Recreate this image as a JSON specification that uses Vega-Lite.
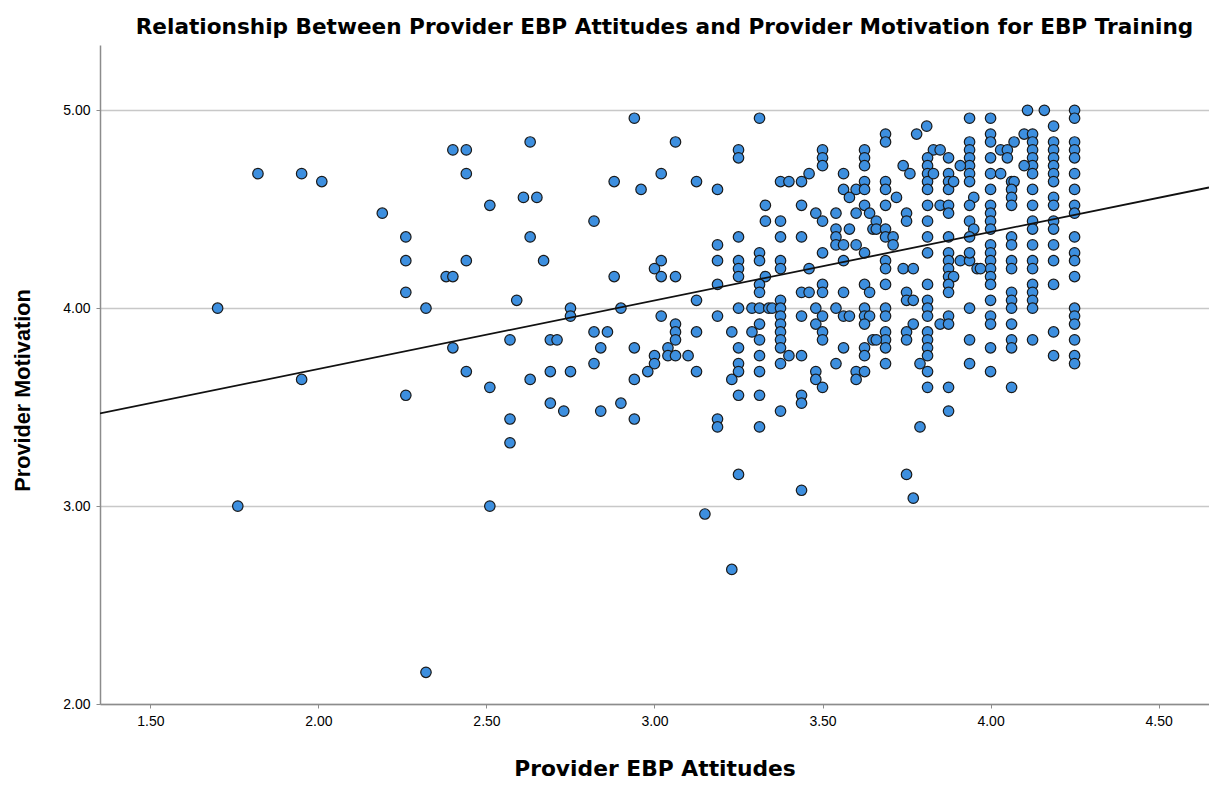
{
  "$schema": "https://vega.github.io/schema/vega-lite/v6.json",
  "width": 1109,
  "height": 659,
  "autosize": "none",
  "padding": {"left": 100, "top": 45, "right": 0, "bottom": 81},
  "background": "white",
  "title": {"text": "Relationship Between Provider EBP Attitudes and Provider Motivation for EBP Training", "font": "DejaVu Sans", "fontSize": 21.6, "fontWeight": "bold", "color": "#000000", "anchor": "middle", "offset": 6, "dx": 10},
  "config": {"view": {"stroke": null}},
  "datasets": {
    "pts": [
      {"a":1.70,"m":4.00},{"a":1.76,"m":3.00},{"a":1.82,"m":4.68},{"a":1.95,"m":4.68},{"a":1.95,"m":3.64},{"a":2.01,"m":4.64},{"a":2.19,"m":4.48},{"a":2.26,"m":4.36},{"a":2.26,"m":4.24},{"a":2.26,"m":4.08},{"a":2.26,"m":3.56},{"a":2.32,"m":4.00},{"a":2.32,"m":2.16},{"a":2.38,"m":4.16},{"a":2.40,"m":4.16},{"a":2.40,"m":4.80},{"a":2.44,"m":4.80},{"a":2.44,"m":4.68},{"a":2.44,"m":4.24},{"a":2.40,"m":3.80},{"a":2.44,"m":3.68},{"a":2.51,"m":4.52},{"a":2.51,"m":3.60},{"a":2.51,"m":3.00},
      {"a":2.94,"m":4.96},{"a":2.63,"m":4.84},{"a":2.61,"m":4.56},{"a":2.65,"m":4.56},{"a":2.63,"m":4.36},{"a":2.67,"m":4.24},{"a":2.59,"m":4.04},{"a":2.82,"m":4.44},{"a":2.88,"m":4.64},{"a":2.96,"m":4.60},{"a":2.88,"m":4.16},{"a":3.00,"m":4.20},{"a":2.75,"m":4.00},{"a":2.75,"m":3.96},{"a":2.90,"m":4.00},{"a":2.57,"m":3.84},{"a":2.69,"m":3.84},{"a":2.71,"m":3.84},{"a":2.82,"m":3.88},{"a":2.86,"m":3.88},{"a":2.84,"m":3.80},{"a":2.94,"m":3.80},{"a":3.00,"m":3.76},{"a":3.00,"m":3.72},{"a":2.63,"m":3.64},{"a":2.69,"m":3.68},{"a":2.75,"m":3.68},{"a":2.82,"m":3.72},{"a":2.94,"m":3.64},{"a":2.98,"m":3.68},{"a":2.57,"m":3.44},{"a":2.57,"m":3.32},{"a":2.69,"m":3.52},{"a":2.73,"m":3.48},{"a":2.84,"m":3.48},{"a":2.90,"m":3.52},{"a":2.94,"m":3.44},
      {"a":3.3125,"m":4.96},{"a":3.0625,"m":4.84},{"a":3.25,"m":4.80},{"a":3.25,"m":4.76},{"a":3.02,"m":4.68},{"a":3.125,"m":4.64},{"a":3.1875,"m":4.60},{"a":3.33,"m":4.52},{"a":3.33,"m":4.44},{"a":3.25,"m":4.36},{"a":3.1875,"m":4.32},{"a":3.1875,"m":4.24},{"a":3.25,"m":4.24},{"a":3.25,"m":4.20},{"a":3.25,"m":4.16},{"a":3.3125,"m":4.28},{"a":3.3125,"m":4.24},{"a":3.33,"m":4.16},{"a":3.02,"m":4.24},{"a":3.02,"m":4.16},{"a":3.0625,"m":4.16},{"a":3.1875,"m":4.12},{"a":3.125,"m":4.04},{"a":3.3125,"m":4.12},{"a":3.3125,"m":4.08},{"a":3.25,"m":4.00},{"a":3.29,"m":4.00},{"a":3.3125,"m":4.00},{"a":3.34,"m":4.00},{"a":3.02,"m":3.96},{"a":3.1875,"m":3.96},{"a":3.0625,"m":3.92},{"a":3.0625,"m":3.88},{"a":3.0625,"m":3.84},{"a":3.125,"m":3.88},{"a":3.04,"m":3.80},{"a":3.04,"m":3.76},{"a":3.0625,"m":3.76},{"a":3.10,"m":3.76},{"a":3.125,"m":3.68},{"a":3.23,"m":3.88},{"a":3.29,"m":3.88},{"a":3.3125,"m":3.92},{"a":3.25,"m":3.80},{"a":3.3125,"m":3.84},{"a":3.3125,"m":3.76},{"a":3.25,"m":3.72},{"a":3.25,"m":3.68},{"a":3.23,"m":3.64},{"a":3.3125,"m":3.68},{"a":3.25,"m":3.56},{"a":3.3125,"m":3.56},{"a":3.1875,"m":3.44},{"a":3.1875,"m":3.40},{"a":3.3125,"m":3.40},{"a":3.25,"m":3.16},{"a":3.15,"m":2.96},{"a":3.23,"m":2.68},
      {"a":3.5,"m":4.80},{"a":3.5,"m":4.76},{"a":3.5,"m":4.72},{"a":3.625,"m":4.80},{"a":3.625,"m":4.76},{"a":3.625,"m":4.72},{"a":3.46,"m":4.68},{"a":3.375,"m":4.64},{"a":3.40,"m":4.64},{"a":3.4375,"m":4.64},{"a":3.5625,"m":4.68},{"a":3.5625,"m":4.60},{"a":3.58,"m":4.56},{"a":3.60,"m":4.60},{"a":3.625,"m":4.64},{"a":3.625,"m":4.60},{"a":3.4375,"m":4.52},{"a":3.625,"m":4.52},{"a":3.60,"m":4.48},{"a":3.64,"m":4.48},{"a":3.48,"m":4.48},{"a":3.5,"m":4.44},{"a":3.54,"m":4.48},{"a":3.375,"m":4.44},{"a":3.375,"m":4.36},{"a":3.4375,"m":4.36},{"a":3.54,"m":4.40},{"a":3.54,"m":4.36},{"a":3.54,"m":4.32},{"a":3.5625,"m":4.32},{"a":3.58,"m":4.40},{"a":3.60,"m":4.32},{"a":3.625,"m":4.28},{"a":3.65,"m":4.40},{"a":3.375,"m":4.24},{"a":3.375,"m":4.20},{"a":3.5,"m":4.28},{"a":3.5625,"m":4.24},{"a":3.46,"m":4.20},{"a":3.4375,"m":4.08},{"a":3.46,"m":4.08},{"a":3.5,"m":4.12},{"a":3.5,"m":4.08},{"a":3.5625,"m":4.08},{"a":3.625,"m":4.12},{"a":3.64,"m":4.08},{"a":3.375,"m":4.04},{"a":3.35,"m":4.00},{"a":3.375,"m":4.00},{"a":3.48,"m":4.00},{"a":3.54,"m":4.00},{"a":3.625,"m":4.00},{"a":3.4375,"m":3.96},{"a":3.5625,"m":3.96},{"a":3.58,"m":3.96},
      {"a":3.375,"m":3.96},{"a":3.375,"m":3.92},{"a":3.375,"m":3.88},{"a":3.375,"m":3.84},{"a":3.375,"m":3.80},{"a":3.48,"m":3.92},{"a":3.5,"m":3.96},{"a":3.5,"m":3.88},{"a":3.5,"m":3.84},{"a":3.625,"m":3.96},{"a":3.64,"m":3.96},{"a":3.625,"m":3.92},{"a":3.65,"m":3.84},{"a":3.40,"m":3.76},{"a":3.4375,"m":3.76},{"a":3.375,"m":3.72},{"a":3.5625,"m":3.80},{"a":3.54,"m":3.72},{"a":3.625,"m":3.80},{"a":3.625,"m":3.76},{"a":3.48,"m":3.68},{"a":3.48,"m":3.64},{"a":3.5,"m":3.60},{"a":3.60,"m":3.68},{"a":3.60,"m":3.64},{"a":3.625,"m":3.68},{"a":3.4375,"m":3.56},{"a":3.4375,"m":3.52},{"a":3.375,"m":3.48},{"a":3.4375,"m":3.08},
      {"a":3.9375,"m":4.96},{"a":3.81,"m":4.92},{"a":3.78,"m":4.88},{"a":3.6875,"m":4.88},{"a":3.6875,"m":4.84},{"a":3.83,"m":4.80},{"a":3.85,"m":4.80},{"a":3.8125,"m":4.76},{"a":3.8125,"m":4.72},{"a":3.8125,"m":4.68},{"a":3.8125,"m":4.64},{"a":3.8125,"m":4.60},{"a":3.875,"m":4.76},{"a":3.9375,"m":4.84},{"a":3.9375,"m":4.80},{"a":3.9375,"m":4.76},{"a":3.9375,"m":4.72},{"a":3.9375,"m":4.68},{"a":3.9375,"m":4.64},{"a":3.91,"m":4.72},{"a":3.74,"m":4.72},{"a":3.76,"m":4.68},{"a":3.83,"m":4.68},{"a":3.875,"m":4.68},{"a":3.875,"m":4.64},{"a":3.875,"m":4.60},{"a":3.89,"m":4.64},{"a":3.6875,"m":4.64},{"a":3.6875,"m":4.60},{"a":3.72,"m":4.56},{"a":3.95,"m":4.56},{"a":3.6875,"m":4.52},{"a":3.8125,"m":4.52},{"a":3.85,"m":4.52},{"a":3.875,"m":4.52},{"a":3.875,"m":4.48},{"a":3.9375,"m":4.52},{"a":3.66,"m":4.44},{"a":3.66,"m":4.40},{"a":3.6875,"m":4.40},{"a":3.6875,"m":4.36},{"a":3.71,"m":4.36},{"a":3.71,"m":4.32},{"a":3.75,"m":4.48},{"a":3.75,"m":4.44},{"a":3.8125,"m":4.44},{"a":3.9375,"m":4.44},{"a":3.95,"m":4.40},{"a":3.8125,"m":4.36},{"a":3.875,"m":4.36},{"a":3.9375,"m":4.36},{"a":3.8125,"m":4.28},{"a":3.875,"m":4.28},{"a":3.875,"m":4.24},{"a":3.875,"m":4.20},{"a":3.875,"m":4.16},{"a":3.91,"m":4.24},{"a":3.9375,"m":4.24},{"a":3.9375,"m":4.28},{"a":3.6875,"m":4.24},{"a":3.6875,"m":4.20},{"a":3.74,"m":4.20},{"a":3.77,"m":4.20},{"a":3.96,"m":4.20},{"a":3.89,"m":4.16},{"a":3.875,"m":4.12},{"a":3.875,"m":4.08},{"a":3.6875,"m":4.12},{"a":3.8125,"m":4.12},{"a":3.75,"m":4.08},{"a":3.75,"m":4.04},{"a":3.77,"m":4.04},{"a":3.8125,"m":4.04},{"a":3.8125,"m":4.00},{"a":3.6875,"m":4.00},{"a":3.875,"m":3.96},{"a":3.9375,"m":4.00},
      {"a":3.6875,"m":3.96},{"a":3.8125,"m":3.96},{"a":3.85,"m":3.92},{"a":3.875,"m":3.92},{"a":3.77,"m":3.92},{"a":3.75,"m":3.88},{"a":3.75,"m":3.84},{"a":3.6875,"m":3.88},{"a":3.6875,"m":3.84},{"a":3.6875,"m":3.80},{"a":3.66,"m":3.84},{"a":3.8125,"m":3.88},{"a":3.8125,"m":3.84},{"a":3.8125,"m":3.80},{"a":3.8125,"m":3.76},{"a":3.9375,"m":3.84},{"a":3.6875,"m":3.72},{"a":3.79,"m":3.72},{"a":3.8125,"m":3.68},{"a":3.9375,"m":3.72},{"a":3.8125,"m":3.60},{"a":3.875,"m":3.60},{"a":3.875,"m":3.48},{"a":3.79,"m":3.40},{"a":3.75,"m":3.16},{"a":3.77,"m":3.04},
      {"a":4.11,"m":5.00},{"a":4.16,"m":5.00},{"a":4.25,"m":5.00},{"a":4.25,"m":4.96},{"a":4.0,"m":4.96},{"a":4.1875,"m":4.92},{"a":4.0,"m":4.88},{"a":4.0,"m":4.84},{"a":4.10,"m":4.88},{"a":4.125,"m":4.88},{"a":4.07,"m":4.84},{"a":4.125,"m":4.84},{"a":4.125,"m":4.80},{"a":4.125,"m":4.76},{"a":4.125,"m":4.72},{"a":4.125,"m":4.68},{"a":4.1875,"m":4.84},{"a":4.1875,"m":4.80},{"a":4.1875,"m":4.76},{"a":4.1875,"m":4.72},{"a":4.1875,"m":4.68},{"a":4.1875,"m":4.64},{"a":4.25,"m":4.84},{"a":4.25,"m":4.80},{"a":4.25,"m":4.76},{"a":4.25,"m":4.68},{"a":4.25,"m":4.60},{"a":4.25,"m":4.52},{"a":4.25,"m":4.48},{"a":4.03,"m":4.80},{"a":4.05,"m":4.80},{"a":4.05,"m":4.76},{"a":4.0,"m":4.76},{"a":4.0,"m":4.68},{"a":4.0,"m":4.60},{"a":4.10,"m":4.72},{"a":4.03,"m":4.68},{"a":4.0625,"m":4.64},{"a":4.07,"m":4.64},{"a":4.0625,"m":4.60},{"a":4.0625,"m":4.56},{"a":4.0625,"m":4.52},{"a":4.125,"m":4.60},{"a":4.125,"m":4.52},{"a":4.1875,"m":4.56},{"a":4.1875,"m":4.52},{"a":4.0,"m":4.52},{"a":4.0,"m":4.48},{"a":4.0,"m":4.44},{"a":4.0,"m":4.40},{"a":4.125,"m":4.44},{"a":4.125,"m":4.40},{"a":4.1875,"m":4.44},{"a":4.1875,"m":4.40},{"a":4.25,"m":4.36},{"a":4.0625,"m":4.36},{"a":4.0625,"m":4.32},{"a":4.0,"m":4.32},{"a":4.0,"m":4.28},{"a":4.0,"m":4.24},{"a":4.0,"m":4.20},{"a":4.125,"m":4.32},{"a":4.1875,"m":4.32},{"a":4.25,"m":4.28},{"a":4.25,"m":4.24},{"a":4.0625,"m":4.24},{"a":4.0625,"m":4.20},{"a":4.125,"m":4.24},{"a":4.125,"m":4.20},{"a":4.1875,"m":4.24},{"a":3.97,"m":4.20},{"a":4.0,"m":4.16},{"a":4.0,"m":4.12},{"a":4.125,"m":4.12},{"a":4.1875,"m":4.12},{"a":4.25,"m":4.16},{"a":4.0625,"m":4.08},{"a":4.0625,"m":4.04},{"a":4.125,"m":4.08},{"a":4.125,"m":4.04},{"a":4.125,"m":4.00},{"a":4.0,"m":4.04},{"a":4.25,"m":4.00},{"a":4.0,"m":3.96},
      {"a":4.0,"m":3.92},{"a":4.0625,"m":3.92},{"a":4.0625,"m":4.00},{"a":4.25,"m":3.96},{"a":4.25,"m":3.92},{"a":4.0,"m":3.80},{"a":4.0625,"m":3.84},{"a":4.0625,"m":3.80},{"a":4.125,"m":3.84},{"a":4.1875,"m":3.88},{"a":4.25,"m":3.84},{"a":4.0,"m":3.68},{"a":4.1875,"m":3.76},{"a":4.25,"m":3.76},{"a":4.25,"m":3.72},{"a":4.0625,"m":3.60}
    ],
    "fit": [
      {"a": 1.35, "m": 3.468},
      {"a": 4.65, "m": 4.61}
    ]
  },
  "encoding": {
    "x": {
      "field": "a", "type": "quantitative",
      "scale": {"domain": [1.35, 4.65], "nice": false, "zero": false},
      "axis": {
        "title": "Provider EBP Attitudes", "titleFont": "DejaVu Sans", "titleFontSize": 21.8, "titleFontWeight": "bold", "titleColor": "#000000", "titlePadding": 30,
        "values": [1.5, 2, 2.5, 3, 3.5, 4, 4.5], "format": ".2f",
        "labelFont": "Liberation Sans", "labelFontSize": 14, "labelColor": "#000000", "labelPadding": 6,
        "grid": false, "domainColor": "#8c8c8c", "domainWidth": 1.5, "ticks": true, "tickSize": 4, "tickColor": "#8c8c8c"
      }
    },
    "y": {
      "field": "m", "type": "quantitative",
      "scale": {"domain": [2.0, 5.33], "nice": false, "zero": false},
      "axis": {
        "title": "Provider Motivation", "titleFont": "Liberation Sans", "titleFontSize": 21.7, "titleFontWeight": "bold", "titleColor": "#000000", "titlePadding": 28, "titleY": 345,
        "values": [2, 3, 4, 5], "format": ".2f",
        "labelFont": "Liberation Sans", "labelFontSize": 14, "labelColor": "#000000", "labelPadding": 6,
        "grid": true, "gridColor": "#c8c8c8", "gridWidth": 1.5,
        "domainColor": "#8c8c8c", "domainWidth": 1.5, "ticks": true, "tickSize": 4, "tickColor": "#8c8c8c"
      }
    }
  },
  "layer": [
    {
      "data": {"name": "pts"},
      "mark": {"type": "circle", "size": 110, "fill": "#3d8fdf", "stroke": "#1a1a1a", "strokeWidth": 1.2, "opacity": 1}
    },
    {
      "data": {"name": "fit"},
      "mark": {"type": "line", "color": "#111111", "strokeWidth": 1.8, "clip": true}
    }
  ]
}
